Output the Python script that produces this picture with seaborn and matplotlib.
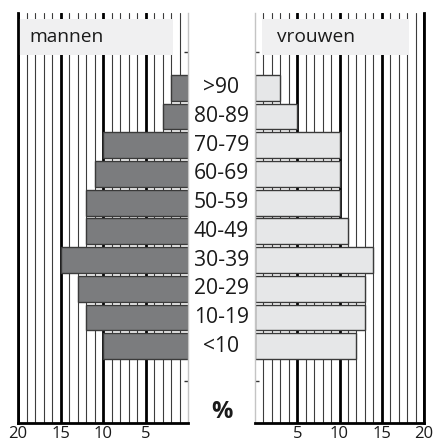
import matplotlib
matplotlib.use("Agg")
import matplotlib.pyplot as plt
import matplotlib.transforms as mtransforms
from matplotlib.patches import Rectangle
from matplotlib.ticker import FixedLocator
import seaborn as sns
import pandas as pd

# Age distribution (% of population) per sex
age_groups = [">90", "80-89", "70-79", "60-69", "50-59", "40-49", "30-39", "20-29", "10-19", "<10"]
men_pct = [2, 3, 10, 11, 12, 12, 15, 13, 12, 10]
women_pct = [3, 5, 10, 10, 10, 11, 14, 13, 13, 12]
panel_titles = ["mannen", "vrouwen"]
tick_values = [5, 10, 15, 20]
unit_label = "%"

sns.set_theme(style="white")
plt.rcParams["font.family"] = ["Open Sans", "DejaVu Sans"]

W, H = 436, 442
fig = plt.figure(figsize=(W / 100, H / 100), dpi=100)
ax_m = fig.add_axes([18 / W, 19 / H, 170 / W, 410 / H])
ax_v = fig.add_axes([255 / W, 19 / H, 169 / W, 410 / H])

df = pd.DataFrame({"age": age_groups, "mannen": men_pct, "vrouwen": women_pct})

sns.barplot(data=df, x="mannen", y="age", order=age_groups, color="#7b7c7e",
            edgecolor="#3a3a3a", linewidth=1.0, width=0.9, saturation=1, ax=ax_m)
sns.barplot(data=df, x="vrouwen", y="age", order=age_groups, color="#e6e7e8",
            edgecolor="#3a3a3a", linewidth=1.0, width=0.9, saturation=1, ax=ax_v)

ax_m.set_xlim(20, 0)
ax_v.set_xlim(0, 20)

minor_vals = [v for v in range(1, 20) if v % 5 != 0]
for ax in (ax_m, ax_v):
    ax.set_ylim(11.68, -2.61)
    ax.set_xlabel("")
    ax.set_ylabel("")
    ax.set_axisbelow(True)
    ax.xaxis.set_major_locator(FixedLocator(tick_values))
    ax.xaxis.set_minor_locator(FixedLocator(minor_vals))
    ax.set_xticklabels([str(v) for v in tick_values])
    ax.grid(which="minor", axis="x", color="#3c3c3c", linewidth=0.8)
    ax.grid(which="major", axis="x", color="black", linewidth=2.0)
    ax.grid(which="both", axis="y", visible=False)
    ax.tick_params(axis="x", which="both", length=0, labelsize=12, pad=2, colors="#1a1a1a")
    ax.set_yticks([-1.25, 10.22])
    ax.set_yticklabels(["", ""])
    ax.tick_params(axis="y", direction="in", length=3, width=1, color="#333333")
    ax.spines["top"].set_visible(False)
    ax.spines["bottom"].set_color("black")
    ax.spines["bottom"].set_linewidth(2)

ax_m.yaxis.tick_right()
ax_m.spines["left"].set_color("black")
ax_m.spines["left"].set_linewidth(2)
ax_m.spines["right"].set_color("#c4c4c4")
ax_m.spines["right"].set_linewidth(1)

ax_v.yaxis.tick_left()
ax_v.spines["right"].set_color("black")
ax_v.spines["right"].set_linewidth(2)
ax_v.spines["left"].set_color("#c4c4c4")
ax_v.spines["left"].set_linewidth(1)

# Panel header boxes
headers = [(ax_m, 0.006, 0.906, 0.065), (ax_v, 0.041, 0.870, 0.13)]
for (ax, x0, w, tx), title in zip(headers, panel_titles):
    ax.add_patch(Rectangle((x0, 0.898), w, 0.087, transform=ax.transAxes,
                           facecolor="#f0f0f1", edgecolor="none", zorder=1.5))
    ax.text(tx, 0.941, title, transform=ax.transAxes, ha="left", va="center",
            fontsize=13.8, color="#1a1a1a", zorder=2)

# Age group labels between the two panels
trans = mtransforms.blended_transform_factory(ax_m.transAxes, ax_m.transData)
for i, label in enumerate(age_groups):
    ax_m.text(1.197, i, label, transform=trans, ha="center", va="center",
              fontsize=15.2, color="#1a1a1a", clip_on=False)

fig.text(221.5 / W, 1 - 412 / H, unit_label, ha="center", va="center",
         fontsize=17, fontweight="bold", color="#1a1a1a")

fig.savefig("out.png", dpi=100)
